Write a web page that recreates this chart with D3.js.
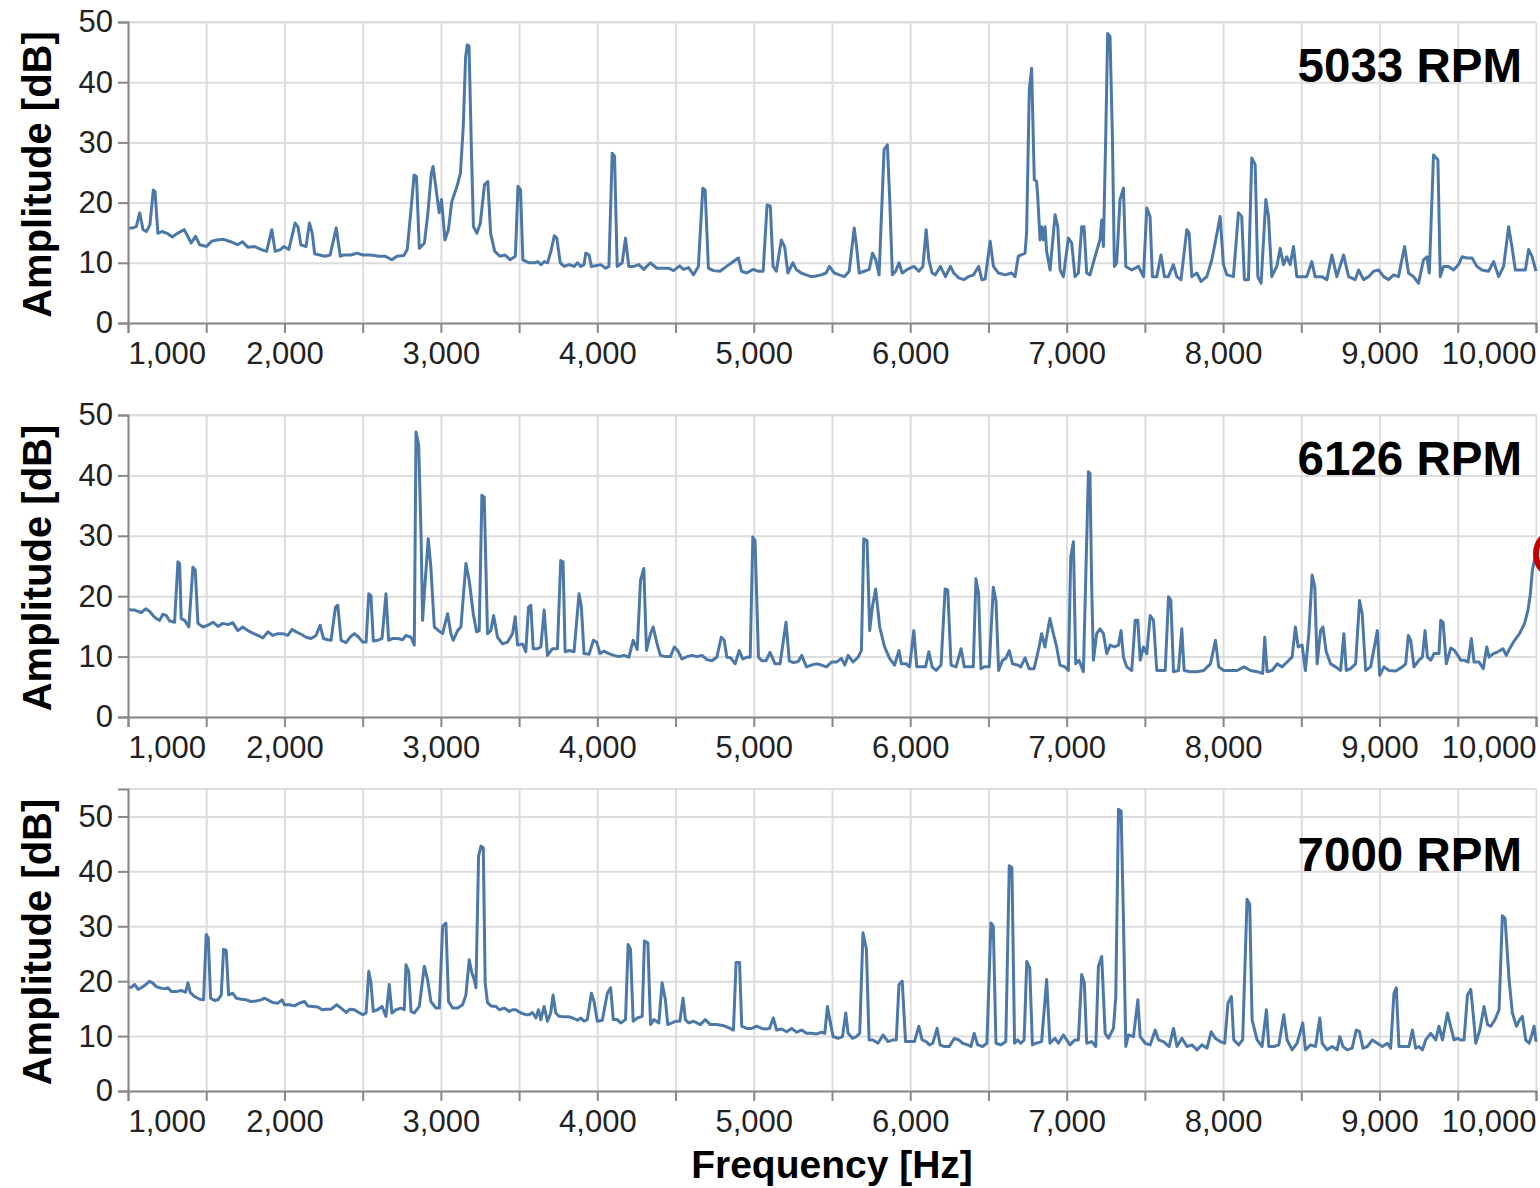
<!DOCTYPE html>
<html>
<head>
<meta charset="utf-8">
<script src="https://cdn.jsdelivr.net/npm/d3@7"></script>
<style>
  body { margin: 0; background: #fff; }
  svg { display: block; font-family: "Liberation Sans", Arial, sans-serif; }
</style>
</head>
<body>
<svg id="chart" width="1540" height="1188"></svg>
<script>
// values: [frequency Hz, amplitude dB]
const spectrum5033 = [
  [1000,15.8],[1031,15.8],[1053,16],[1075,18.3],[1096,15.5],[1118,15.2],[1140,16.3],[1162,22.1],[1173,21.8],[1191,14.9],
  [1217,15.2],[1250,14.9],[1283,14.3],[1316,14.9],[1360,15.5],[1382,14.4],[1404,13.3],[1432,14.4],[1458,13.0],[1502,12.7],
  [1535,13.6],[1568,13.8],[1612,13.9],[1656,13.5],[1700,13.0],[1732,13.5],[1765,12.6],[1809,12.7],[1853,12.2],[1886,11.9],
  [1919,15.5],[1941,11.9],[1974,12.2],[1996,12.7],[2028,12.2],[2068,16.6],[2086,16.0],[2105,13.0],[2138,12.7],[2160,16.6],
  [2178,14.9],[2193,11.5],[2226,11.3],[2259,11.1],[2292,11.3],[2331,15.8],[2357,11.1],[2379,11.3],[2423,11.3],[2467,11.6],
  [2500,11.3],[2544,11.3],[2577,11.2],[2599,11.1],[2643,11.1],[2686,10.5],[2719,11.1],[2763,11.2],[2785,12.2],[2807,18.3],
  [2829,24.6],[2844,24.3],[2862,12.4],[2895,13.3],[2917,18.3],[2939,24.9],[2950,26],[2967,22.7],[2989,18.3],[3004,20.5],
  [3026,13.8],[3048,15.5],[3070,20.2],[3103,22.7],[3125,24.9],[3143,32.6],[3158,44.2],[3169,46.2],[3180,46.0],[3195,28.8],
  [3208,16],[3230,14.9],[3252,16.6],[3279,23],[3300,23.5],[3318,14.9],[3344,11.9],[3377,11.1],[3410,11.3],[3443,10.5],
  [3476,11.1],[3493,22.7],[3509,22.1],[3524,10.5],[3564,10],[3597,10],[3619,10.2],[3640,9.7],[3661,10.2],[3682,10],
  [3703,11.9],[3725,14.5],[3741,14.1],[3763,10],[3788,9.4],[3820,9.7],[3852,9.4],[3873,10],[3894,9.4],[3915,9.7],
  [3926,11.6],[3947,11.3],[3962,9.4],[3989,9.5],[4021,9.7],[4053,9.1],[4074,9.4],[4095,28.2],[4110,27.7],[4127,9.4],
  [4159,10],[4180,14.1],[4201,9.4],[4233,9.4],[4265,9.7],[4297,8.9],[4339,10],[4381,9.1],[4424,9.1],[4456,9.1],
  [4487,8.7],[4526,9.5],[4551,8.9],[4583,9.2],[4615,8],[4646,9.4],[4674,22.4],[4689,22.1],[4710,9.1],[4742,8.7],
  [4784,8.6],[4826,9.4],[4858,10],[4901,10.8],[4922,8.6],[4954,8.3],[4996,8.9],[5028,8.6],[5060,8.6],[5085,19.6],
  [5106,19.4],[5123,9.4],[5144,8.6],[5176,13.8],[5197,12.7],[5218,8.3],[5250,10],[5271,8.9],[5303,8.3],[5335,8],
  [5367,7.7],[5399,7.8],[5430,8],[5462,8.3],[5483,9.4],[5515,8.3],[5547,8],[5579,7.7],[5610,8.6],[5642,15.8],
  [5657,12.7],[5674,8.3],[5706,8.6],[5738,8.9],[5759,11.6],[5780,10.5],[5801,8],[5833,28.8],[5854,29.6],[5869,20.5],
  [5886,8],[5907,8.6],[5928,10],[5949,8.3],[5981,8.9],[6024,9.4],[6055,8.6],[6081,9.4],[6102,15.5],[6119,10.5],
  [6140,8.3],[6161,8],[6193,9.4],[6225,7.7],[6257,9.4],[6278,8.3],[6310,7.5],[6342,7.2],[6373,7.7],[6405,8],
  [6437,9.4],[6458,7.2],[6479,7.3],[6511,13.6],[6532,9.4],[6564,8.3],[6606,8],[6649,8.3],[6670,7.7],[6691,11.1],
  [6734,11.6],[6744,15],[6761,38.7],[6776,42.3],[6793,23.8],[6808,23.5],[6815,21],[6830,13.8],[6840,16],[6851,13.8],
  [6862,16],[6872,11.9],[6894,8.8],[6926,18],[6943,16],[6958,8.8],[6979,7.7],[7011,14.1],[7032,13.3],[7053,7.7],
  [7075,8.3],[7096,16],[7111,16],[7128,8.3],[7149,8],[7181,11],[7213,13.8],[7224,17.1],[7235,12.7],[7250,31.5],
  [7262,48.1],[7277,47.6],[7292,31.5],[7305,9.4],[7320,10],[7341,20.5],[7363,22.4],[7378,9.4],[7416,8.8],[7459,9.4],
  [7491,7.7],[7512,19.1],[7533,17.7],[7548,7.7],[7576,7.7],[7603,11.3],[7625,7.7],[7650,7.7],[7682,9.7],[7704,7.7],
  [7731,7.2],[7768,15.5],[7783,14.9],[7800,7.7],[7832,8.3],[7859,6.9],[7896,7.7],[7928,10.5],[7949,13.3],[7981,17.7],
  [8002,9.7],[8024,8],[8066,7.7],[8098,18.3],[8119,17.7],[8136,7.2],[8162,7.2],[8183,27.4],[8205,26.3],[8222,7.7],
  [8243,6.6],[8273,20.5],[8290,17.7],[8311,7.7],[8343,9.4],[8365,12.4],[8386,9.7],[8407,11],[8429,9.7],[8450,12.7],
  [8471,7.7],[8503,7.7],[8535,7.7],[8567,10.2],[8588,7.7],[8631,7.7],[8663,7.2],[8695,11.3],[8727,7.7],[8770,11.3],
  [8802,7.7],[8844,7.2],[8866,8.8],[8898,7.2],[8930,7.7],[8962,8.6],[8994,8.8],[9026,7.7],[9058,7.2],[9090,8],
  [9121,7.7],[9160,12.7],[9185,8.3],[9217,7.7],[9249,6.6],[9281,10.5],[9303,11],[9318,8.3],[9345,27.9],[9373,27.1],
  [9388,7.7],[9409,9.4],[9441,9.4],[9473,8.8],[9505,9.7],[9527,11],[9559,10.8],[9591,10.8],[9623,9.4],[9654,8.8],
  [9697,8.6],[9729,10.2],[9761,7.7],[9793,9.4],[9825,16],[9846,12.7],[9868,8.8],[9900,8.8],[9932,8.8],[9953,12.2],
  [9974,11.1],[10000,8.6]
];

const spectrum6126 = [
  [1000,17.9],[1021,17.7],[1043,17.7],[1064,17.5],[1085,17.3],[1113,17.9],[1138,17.5],[1160,16.8],[1181,16.3],[1202,16],
  [1223,17],[1245,16.8],[1266,15.9],[1298,15.7],[1319,25.7],[1330,25.4],[1340,16.3],[1362,16],[1389,14.9],[1415,24.8],
  [1430,24.3],[1447,15.5],[1479,14.9],[1511,15.2],[1543,15.7],[1575,15],[1606,15.5],[1638,15.3],[1670,15.6],[1702,14.3],
  [1734,14.9],[1766,14.3],[1798,13.9],[1830,13.5],[1862,13.1],[1894,14.1],[1926,13.5],[1958,13.8],[1990,13.8],[2021,13.5],
  [2049,14.5],[2075,14.1],[2107,13.7],[2138,13.2],[2170,13],[2202,13.5],[2228,15.2],[2249,13],[2277,12.8],[2298,12.7],
  [2326,18.2],[2341,18.5],[2362,12.7],[2394,12.3],[2419,13.2],[2447,13.8],[2475,13.2],[2500,12.4],[2522,12.4],[2539,20.4],
  [2553,20.1],[2568,12.6],[2596,12.7],[2624,13],[2649,20.4],[2666,12.7],[2692,13],[2724,13],[2756,12.8],[2777,13.5],
  [2809,13.2],[2830,11.9],[2841,47.2],[2858,45],[2873,30.4],[2883,16],[2900,22.6],[2919,29.5],[2936,24.8],[2958,14.9],
  [2985,14.3],[3011,13.8],[3043,17.1],[3064,13.8],[3079,12.7],[3107,14.3],[3128,14.9],[3160,25.4],[3181,22.6],[3207,17.1],
  [3228,14.1],[3245,14.3],[3262,36.7],[3277,36.4],[3298,13.8],[3319,14.3],[3337,16.8],[3362,13.2],[3394,12.1],[3426,12.4],
  [3458,13.8],[3475,16.6],[3490,11.9],[3522,12.1],[3543,10.8],[3560,18.2],[3575,18.5],[3590,11.3],[3617,11.3],[3639,11.6],
  [3660,17.7],[3681,10.2],[3713,11.3],[3745,11.3],[3766,25.9],[3781,25.7],[3794,10.8],[3820,11],[3851,10.8],[3883,20.4],
  [3898,18.2],[3915,10.5],[3947,10.4],[3975,12.7],[3996,12.4],[4017,10.5],[4042,10.9],[4074,10.5],[4106,10.2],[4138,10],
  [4170,10.2],[4202,9.9],[4229,12.7],[4255,11.2],[4276,22.6],[4297,24.6],[4314,11],[4340,13.8],[4357,14.9],[4382,12.1],
  [4403,10.2],[4435,10],[4467,10],[4493,11.6],[4514,11],[4541,9.6],[4573,10],[4605,10.2],[4637,10],[4669,10.2],
  [4701,9.5],[4732,9.3],[4764,9.9],[4792,13.2],[4811,12.7],[4828,9.9],[4853,9.8],[4881,8.8],[4907,11],[4930,9.6],
  [4955,9.9],[4977,9.9],[4994,29.8],[5008,29.2],[5030,9.9],[5051,9.3],[5078,9.3],[5104,10.7],[5136,8.8],[5168,8.8],
  [5206,15.7],[5227,9.3],[5253,9],[5284,9.2],[5306,10.2],[5337,8.3],[5369,8.6],[5401,8.8],[5433,8.6],[5465,8.3],
  [5497,9.1],[5529,9.1],[5560,9.7],[5582,8.6],[5603,10.2],[5635,9.1],[5667,9.9],[5688,11],[5703,29.5],[5724,29.2],
  [5741,14.3],[5758,18.2],[5779,21.2],[5805,14.9],[5836,11.6],[5868,9.7],[5900,8.6],[5928,11],[5943,8.8],[5974,8.8],
  [5996,8.3],[6023,14.3],[6042,8.3],[6070,8.3],[6098,8.3],[6119,10.8],[6140,8.3],[6165,7.7],[6197,8.6],[6223,21.2],
  [6240,21],[6261,8.6],[6293,8.3],[6325,11.3],[6346,8.3],[6378,8.3],[6403,8.3],[6420,22.9],[6437,20.4],[6452,8],
  [6473,8.3],[6505,8.3],[6531,21.5],[6548,19.3],[6565,7.7],[6590,9.4],[6611,9.7],[6633,11],[6654,8.8],[6686,8.6],
  [6707,8.3],[6734,9.8],[6760,8],[6792,8],[6824,11.6],[6840,13.8],[6861,11.6],[6893,16.3],[6915,13.8],[6936,11.6],
  [6957,8.6],[6989,8.3],[7011,7.7],[7026,26.5],[7043,29],[7058,8.8],[7079,9.4],[7107,7.5],[7139,40.6],[7149,40.3],
  [7160,21.5],[7171,9.4],[7192,13.8],[7213,14.6],[7235,13.8],[7256,10.5],[7278,11.9],[7305,11.6],[7331,11.9],[7348,14.3],
  [7363,9.9],[7384,8.3],[7416,7.7],[7438,16],[7455,16],[7470,9.4],[7491,11.6],[7512,10.5],[7534,16.8],[7555,16],
  [7576,7.7],[7608,7.7],[7630,7.7],[7651,19.9],[7666,19.3],[7683,7.5],[7715,7.7],[7736,14.6],[7751,7.7],[7791,7.5],
  [7833,7.5],[7876,7.7],[7919,8.8],[7951,12.7],[7972,8.3],[8004,7.7],[8047,7.7],[8090,7.7],[8134,8.3],[8175,7.7],
  [8218,7.5],[8253,7.2],[8266,13.2],[8281,7.5],[8313,7.7],[8345,8.8],[8377,8.3],[8409,9.1],[8441,9.9],[8462,14.9],
  [8480,11.6],[8505,11.9],[8526,7.7],[8548,13.8],[8569,23.5],[8586,21.5],[8601,8.8],[8623,14.3],[8638,14.9],[8659,10.8],
  [8687,8.8],[8719,8.3],[8751,7.7],[8772,13.8],[8787,7.7],[8815,8],[8847,8.8],[8872,19.3],[8889,17.1],[8911,7.7],
  [8943,8.3],[8986,14.3],[9001,6.9],[9028,8.3],[9060,7.7],[9103,7.6],[9146,8.3],[9167,8.8],[9184,13.5],[9199,12.7],
  [9220,8.3],[9252,9.4],[9274,9.9],[9291,14.3],[9306,9.9],[9327,9.4],[9348,10.5],[9380,10.5],[9391,16],[9406,15.7],
  [9427,8.8],[9455,11.4],[9476,11.1],[9500,10.2],[9519,9.4],[9540,9.4],[9566,9.1],[9587,13],[9604,9.1],[9636,9.1],
  [9663,8],[9685,11.6],[9700,9.9],[9728,10.5],[9756,10.8],[9789,11.3],[9810,10.2],[9831,11.3],[9863,12.7],[9895,13.8],
  [9927,15.5],[9949,17.7],[9964,20.4],[9977,24.3],[9990,26],[10000,27]
];

const spectrum7000 = [
  [1000,18.9],[1021,18.9],[1043,19.4],[1064,18.5],[1085,18.8],[1106,19.2],[1138,20],[1160,19.6],[1181,19],[1202,18.8],
  [1234,18.6],[1255,18.8],[1277,18.1],[1309,18.1],[1340,18.3],[1368,18],[1383,19.7],[1398,17.9],[1426,17.2],[1458,16.7],
  [1483,16.6],[1500,28.5],[1513,27.9],[1528,16.9],[1553,16.5],[1575,16.6],[1596,17.5],[1611,25.8],[1628,25.6],[1643,17.5],
  [1670,17.8],[1692,16.9],[1724,16.7],[1755,16.6],[1787,16.3],[1819,16.4],[1851,16.6],[1872,16.9],[1894,16.6],[1926,16.1],
  [1958,16],[1985,16.6],[2000,15.7],[2032,15.7],[2064,15.5],[2096,16],[2128,16.3],[2149,15.5],[2181,15.4],[2213,15.3],
  [2241,14.8],[2266,14.9],[2298,14.9],[2334,15.7],[2362,15.1],[2394,14.3],[2419,14.9],[2447,14.8],[2475,14.3],[2500,13.9],
  [2522,14.2],[2539,21.8],[2553,19.7],[2568,14.5],[2596,14.8],[2624,15.4],[2649,13.6],[2670,19.4],[2687,14.2],[2713,14.8],
  [2745,15.1],[2766,14.8],[2777,23],[2794,21.8],[2809,14.5],[2830,14.2],[2862,15.4],[2894,22.7],[2915,20.3],[2936,16.3],
  [2968,15.1],[2990,15.1],[3011,30],[3032,30.6],[3049,16.3],[3075,15.1],[3107,15.1],[3139,15.7],[3160,17.5],[3181,23.9],
  [3198,21.5],[3213,20.3],[3224,18.8],[3241,42.8],[3256,44.6],[3271,44.3],[3283,19.7],[3298,16.1],[3320,15.5],[3351,15.4],
  [3373,14.8],[3405,15.1],[3437,14.5],[3458,14.8],[3479,14.8],[3511,14.2],[3543,13.9],[3564,13.9],[3585,14.3],[3607,13.3],
  [3624,14.8],[3639,13],[3660,15.4],[3681,12.7],[3702,14.2],[3717,17.5],[3734,14.2],[3756,13.6],[3788,13.5],[3820,13.5],
  [3851,13.2],[3873,12.9],[3894,13.3],[3915,12.7],[3936,13],[3962,17.8],[3979,16.3],[4000,12.7],[4032,12.9],[4064,17.8],
  [4085,18.8],[4102,13],[4127,13],[4149,12.4],[4180,13],[4197,26.7],[4212,25.8],[4229,12.7],[4255,13.3],[4287,13.6],
  [4301,27.3],[4323,27],[4340,12.1],[4361,13],[4393,12.4],[4414,19.7],[4435,16.6],[4450,12.1],[4478,12.4],[4499,12.7],
  [4527,12.7],[4548,16.9],[4563,13],[4584,12.4],[4616,12.7],[4658,12.1],[4690,13],[4722,12.1],[4764,12.1],[4807,11.9],
  [4849,11.4],[4870,11.1],[4887,23.4],[4909,23.4],[4923,11.8],[4955,11.4],[4987,11.4],[5019,11.8],[5051,11.4],[5072,11.3],
  [5100,11.4],[5125,13.3],[5146,11.1],[5178,11.3],[5210,10.8],[5242,11.4],[5274,10.7],[5306,11.1],[5337,10.5],[5369,10.5],
  [5401,10.4],[5433,10.7],[5454,10.5],[5471,15.4],[5486,13],[5507,9.9],[5539,9.6],[5567,9.9],[5588,14.2],[5603,10.5],
  [5630,9.6],[5656,9.9],[5677,10.5],[5698,28.8],[5720,25.8],[5737,9.3],[5762,9.3],[5794,8.7],[5826,10.2],[5858,9],
  [5890,9.3],[5911,9.3],[5928,19.4],[5949,20],[5970,9],[5996,9],[6027,9],[6055,11.8],[6076,9.3],[6102,9],
  [6123,8.4],[6144,8.7],[6172,11.4],[6191,8.4],[6218,8.1],[6250,8.1],[6282,9.6],[6310,9.3],[6335,8.7],[6367,8.4],
  [6388,8.1],[6409,10.5],[6431,8.4],[6463,8.1],[6490,8.7],[6516,30.6],[6531,30],[6548,8.7],[6580,8.4],[6611,9],
  [6633,41],[6650,40.7],[6667,8.7],[6686,9.3],[6707,8.7],[6728,9.3],[6745,23.6],[6764,22.4],[6781,8.4],[6802,8.7],
  [6840,9],[6872,20.3],[6893,8.7],[6925,9.6],[6947,8.7],[6979,10.2],[7000,9.3],[7021,8.4],[7053,9.3],[7075,9.3],
  [7096,21.2],[7113,19.7],[7128,8.7],[7160,9],[7186,8.1],[7203,22.7],[7224,24.5],[7246,10.5],[7267,9.6],[7299,11.4],
  [7314,17.2],[7331,51.3],[7348,51],[7363,31.2],[7378,8.1],[7395,10.2],[7427,9.9],[7455,16.6],[7470,9.9],[7502,8.7],
  [7534,8.4],[7566,11.1],[7587,9.3],[7619,9],[7655,8.1],[7683,11.4],[7705,8.1],[7737,9.6],[7769,8.1],[7801,8.4],
  [7833,7.5],[7865,8.4],[7897,7.8],[7924,10.8],[7950,9.6],[7982,9],[8010,8.7],[8031,16],[8053,17.2],[8068,9.3],
  [8100,8.4],[8125,9.3],[8153,34.9],[8170,34],[8185,13],[8217,9.3],[8249,8.1],[8277,14.8],[8292,8.1],[8324,8.1],
  [8356,8.4],[8388,13.9],[8409,9.3],[8441,7.5],[8473,8.7],[8509,12.4],[8526,7.5],[8559,8.4],[8591,8.1],[8618,13.3],
  [8633,8.7],[8665,7.5],[8697,8.1],[8729,7.5],[8746,9.9],[8766,8.1],[8793,7.5],[8825,7.8],[8851,11.1],[8872,10.8],
  [8894,7.8],[8922,8.1],[8954,9.3],[8986,8.7],[9018,8.1],[9050,8.7],[9071,7.8],[9092,17.8],[9107,18.8],[9124,8.1],
  [9156,8.1],[9188,8.1],[9210,11.1],[9231,7.8],[9252,8.1],[9274,7.5],[9295,9.3],[9327,10.5],[9359,9.3],[9380,11.8],
  [9402,9.3],[9434,14.2],[9449,12.4],[9476,9.3],[9498,9.6],[9519,9.3],[9540,9.3],[9562,17.5],[9583,18.5],[9598,14.2],
  [9615,8.7],[9641,11.1],[9668,15.4],[9690,12.1],[9711,11.8],[9738,13],[9764,14.8],[9785,31.9],[9802,31.5],[9828,20.3],
  [9849,14.2],[9875,11.8],[9896,13],[9913,13.6],[9934,9.3],[9956,8.7],[9973,10.2],[9988,11.8],[10000,9]
];

const rpmLabels = ['5033 RPM', '6126 RPM', '7000 RPM'];
const yMaxes = [50, 50, 55];
const yTicks = [0, 10, 20, 30, 40, 50];
const xTicks = d3.range(1000, 10001, 500);
const highlight = {panel: 1, freq: 10000, amp: 27};

const FONT = '"Liberation Sans", Arial, sans-serif';
const left = 128, right = 1536;
const panelTops = [22, 415, 789];
const panelBottoms = [323, 717, 1091];

const svg = d3.select('#chart');
svg.append('rect').attr('width', 1540).attr('height', 1188).attr('fill', '#fff');

const x = d3.scaleLinear().domain([1000, 10000]).range([left, right]);
const line = (y) => d3.line().x(d => x(d[0])).y(d => y(d[1]));

const panels = [spectrum5033, spectrum6126, spectrum7000].map((data, i) => ({
  data,
  label: rpmLabels[i],
  y: d3.scaleLinear().domain([0, yMaxes[i]]).range([panelBottoms[i], panelTops[i]])
}));

panels.forEach((p, i) => {
  const g = svg.append('g');
  const top = panelTops[i], bottom = panelBottoms[i];

  // grid
  g.append('g')
    .attr('transform', `translate(0,${bottom})`)
    .call(d3.axisBottom(x).tickValues(xTicks).tickSize(-(bottom - top)).tickFormat(''))
    .call(a => a.select('.domain').remove())
    .selectAll('line').attr('stroke', '#ddd').attr('stroke-width', 2);
  g.append('g')
    .attr('transform', `translate(${left},0)`)
    .call(d3.axisLeft(p.y).tickValues(yTicks).tickSize(-(right - left)).tickFormat(''))
    .call(a => a.select('.domain').remove())
    .selectAll('line').attr('stroke', '#ddd').attr('stroke-width', 2);
  // top edge grid
  g.append('line').attr('x1', left).attr('x2', right).attr('y1', top).attr('y2', top)
    .attr('stroke', '#ddd').attr('stroke-width', 2);

  // spectrum
  g.append('path')
    .datum(p.data)
    .attr('fill', 'none')
    .attr('stroke', '#4c78a8')
    .attr('stroke-width', 3)
    .attr('stroke-linejoin', 'round')
    .attr('d', line(p.y));

  // x axis
  const xa = g.append('g')
    .attr('transform', `translate(0,${bottom})`)
    .call(d3.axisBottom(x).tickValues(xTicks).tickSize(10).tickPadding(9)
      .tickFormat(d => d % 1000 === 0 ? d3.format(',')(d) : ''));
  xa.select('.domain').attr('stroke', '#888').attr('stroke-width', 2);
  xa.selectAll('.tick line').attr('stroke', '#888').attr('stroke-width', 2);
  xa.selectAll('.tick text')
    .attr('font-family', FONT).attr('font-size', 31).attr('fill', '#222')
    .attr('text-anchor', d => d === 1000 ? 'start' : d === 10000 ? 'end' : 'middle');

  // y axis
  const ya = g.append('g')
    .attr('transform', `translate(${left},0)`)
    .call(d3.axisLeft(p.y).tickValues(yTicks).tickSize(10).tickPadding(5));
  ya.select('.domain').attr('stroke', '#888').attr('stroke-width', 2);
  ya.selectAll('.tick line').attr('stroke', '#888').attr('stroke-width', 2);
  ya.selectAll('.tick text')
    .attr('font-family', FONT).attr('font-size', 31).attr('fill', '#222');

  // y title
  g.append('text')
    .attr('transform', `translate(51,${(top + bottom) / 2 + 2}) rotate(-90)`)
    .attr('text-anchor', 'middle')
    .attr('font-family', FONT).attr('font-weight', 'bold').attr('font-size', 40)
    .attr('fill', '#000')
    .text('Amplitude [dB]');

  // rpm label
  g.append('text')
    .attr('x', x(10000) - 14)
    .attr('y', p.y(40))
    .attr('text-anchor', 'end')
    .attr('font-family', FONT).attr('font-weight', 'bold').attr('font-size', 47.5)
    .attr('fill', '#000')
    .text(p.label);
});

// highlighted point at the end of the 6126 RPM trace
const hp = panels[highlight.panel];
svg.append('circle')
  .attr('cx', x(highlight.freq) + 24)
  .attr('cy', hp.y(highlight.amp))
  .attr('r', 24)
  .attr('fill', 'none')
  .attr('stroke', '#c00000')
  .attr('stroke-width', 6);

// x title
svg.append('text')
  .attr('x', (left + right) / 2)
  .attr('y', 1178)
  .attr('text-anchor', 'middle')
  .attr('font-family', FONT).attr('font-weight', 'bold').attr('font-size', 39)
  .attr('fill', '#000')
  .text('Frequency [Hz]');
</script>
</body>
</html>
